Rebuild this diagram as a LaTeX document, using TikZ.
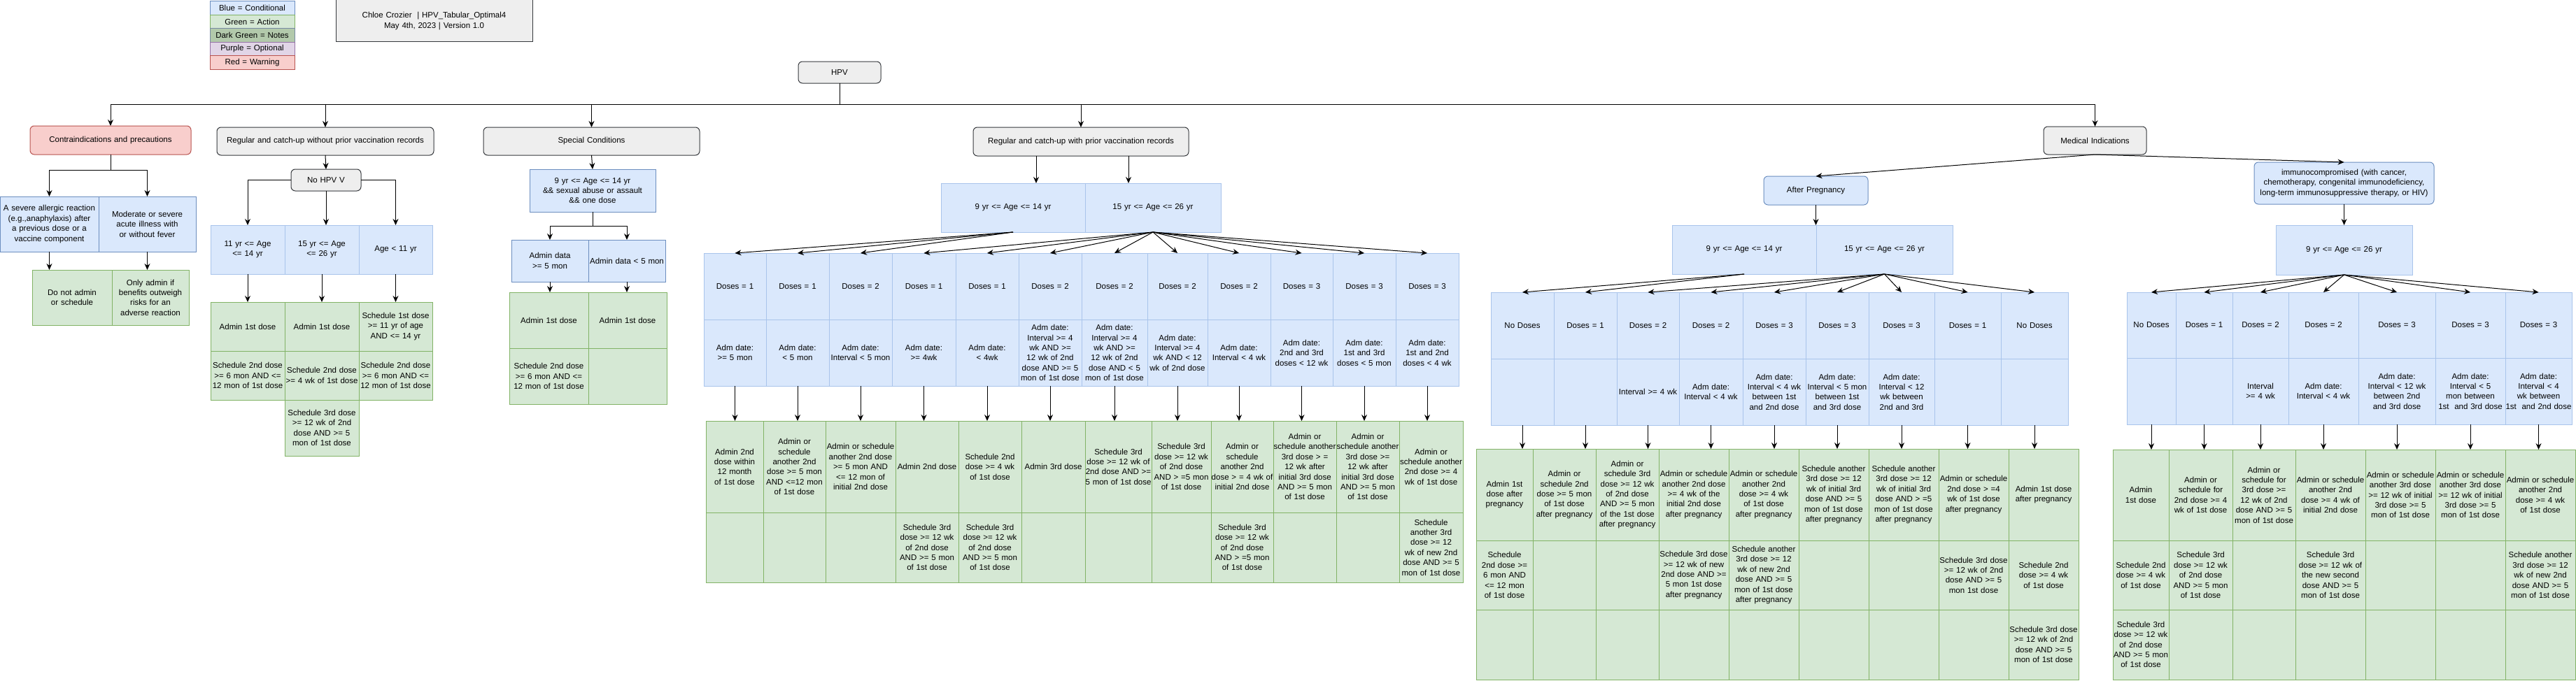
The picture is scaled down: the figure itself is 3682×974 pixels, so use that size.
\documentclass[tikz,border=0pt]{standalone}
\usepackage{fontspec}
\setmainfont{Liberation Sans}
\usetikzlibrary{arrows.meta}

\hyphenpenalty=10000\relax
\exhyphenpenalty=10000\relax

\definecolor{condFill}{HTML}{DAE8FC}
\definecolor{condLine}{HTML}{6C8EBF}
\definecolor{condSoft}{HTML}{A9C4EB}
\definecolor{actFill}{HTML}{D5E8D4}
\definecolor{actLine}{HTML}{82B366}
\definecolor{noteFill}{HTML}{B2C9AB}
\definecolor{noteLine}{HTML}{788AA3}
\definecolor{optFill}{HTML}{E1D5E7}
\definecolor{optLine}{HTML}{9673A6}
\definecolor{warnFill}{HTML}{F8CECC}
\definecolor{warnLine}{HTML}{B85450}
\definecolor{headFill}{HTML}{EEEEEE}
\definecolor{headLine}{HTML}{36393D}

% table cell: [style]{name}{x1}{y1}{x2}{y2}{text}
\newcommand{\tcell}[7][]{%
  \pgfmathsetmacro{\cellw}{#5-#3}%
  \pgfmathsetmacro{\cellh}{#6-#4}%
  \pgfmathsetmacro{\cellt}{#5-#3-1}%
  \node[#1, minimum width=\cellw pt, minimum height=\cellh pt, text width=\cellt pt]
    (#2) at ({(#3+#5)/2},{(#4+#6)/2}) {#7};%
}

\begin{document}
\begin{tikzpicture}[
    x=1pt, y=-1pt,
    every node/.style = {align=center, inner sep=0pt, outer sep=0pt,
                         font=\fontsize{11.5}{14.4}\selectfont},
    gbox/.style  = {draw=headLine, fill=headFill, rounded corners=6pt, line width=1pt},
    rbox/.style  = {draw=warnLine, fill=warnFill, rounded corners=6pt, line width=1pt},
    bbox/.style  = {draw=condLine, fill=condFill, rounded corners=6pt, line width=1pt},
    bcell/.style = {draw=condSoft, fill=condFill, line width=1pt},
    bcelld/.style = {draw=condLine, fill=condFill, line width=1pt},
    gcell/.style = {draw=actLine, fill=actFill, line width=1pt},
    titlebox/.style = {draw=headLine, fill=headFill, line width=1pt},
    arr/.style = {-{Stealth[length=9pt, width=8pt, inset=3pt]}, line width=1pt}
  ]
\useasboundingbox (0,0) rectangle (3682,974);

% legend and title
\tcell[draw=condLine, fill=condFill, line width=1pt]{legc}{300}{2}{421}{21.4}{Blue = Conditional}
\tcell[draw=actLine, fill=actFill, line width=1pt]{lega}{300}{21.4}{421}{40.8}{Green = Action}
\tcell[draw=noteLine, fill=noteFill, line width=1pt]{legn}{300}{40.8}{421}{60.2}{Dark Green = Notes}
\tcell[draw=optLine, fill=optFill, line width=1pt]{lego}{300}{60.2}{421}{79.6}{Purple = Optional}
\tcell[draw=warnLine, fill=warnFill, line width=1pt]{legw}{300}{79.6}{421}{99}{Red = Warning}
\tcell[titlebox]{title}{480}{0}{761}{60}{Chloe Crozier~ | HPV\_Tabular\_Optimal4\\ May 4th, 2023 | Version 1.0}

% top level
\tcell[gbox]{hpv}{1141}{88}{1259}{119}{HPV}
\tcell[rbox]{contra}{43}{180}{273}{221}{Contraindications and precautions}
\tcell[gbox]{regno}{310}{182}{620}{222}{Regular and catch-up without prior vaccination records}
\tcell[gbox]{special}{691}{182}{1000}{222}{Special Conditions}
\tcell[gbox]{regwith}{1391}{182}{1699}{223}{Regular and catch-up with prior vaccination records}
\tcell[gbox]{medical}{2921}{181}{3068}{221}{Medical Indications}

% contraindications
\tcell[bcelld]{ca1}{0}{281}{141}{360}{A severe allergic reaction (e.g.,anaphylaxis) after a previous dose or a vaccine component}
\tcell[bcelld]{ca2}{141}{281}{280}{360}{Moderate or severe acute illness with or without fever}
\tcell[gcell]{cg1}{46}{386}{160}{465}{Do not admin or schedule}
\tcell[gcell]{cg2}{160}{386}{270}{465}{Only admin if benefits outweigh risks for an adverse reaction}

% without prior records
\tcell[gbox]{nohpv}{416}{242}{516}{273}{No HPV V}
\tcell[bcell]{na1}{301}{322}{407}{392}{11 yr <= Age <= 14 yr}
\tcell[bcell]{na2}{407}{322}{513}{392}{15 yr <= Age <= 26 yr}
\tcell[bcell]{na3}{513}{322}{618}{392}{Age < 11 yr}
\tcell[gcell]{ng1}{301}{432}{407}{502}{Admin 1st dose}
\tcell[gcell]{ng2}{407}{432}{513}{502}{Admin 1st dose}
\tcell[gcell]{ng3}{513}{432}{618}{502}{Schedule 1st dose >= 11 yr of age AND <= 14 yr}
\tcell[gcell]{nh1}{301}{502}{407}{572}{Schedule 2nd dose >= 6 mon AND <= 12 mon of 1st dose}
\tcell[gcell]{nh2}{407}{502}{513}{572}{Schedule 2nd dose >= 4 wk of 1st dose}
\tcell[gcell]{nh3}{513}{502}{618}{572}{Schedule 2nd dose >= 6 mon AND <= 12 mon of 1st dose}
\tcell[gcell]{ni2}{407}{572}{513}{652}{Schedule 3rd dose >= 12 wk of 2nd dose AND >= 5 mon of 1st dose}

% special conditions
\tcell[bcelld]{sa}{757}{242}{937}{303}{9 yr <= Age <= 14 yr\\ \&\& sexual abuse or assault\\ \&\& one dose}
\tcell[bcelld]{sb1}{731}{343}{841}{403}{Admin data >= 5 mon}
\tcell[bcelld]{sb2}{841}{343}{951}{403}{Admin data < 5 mon}
\tcell[gcell]{sg1}{728}{418}{841}{498}{Admin 1st dose}
\tcell[gcell]{sg2}{841}{418}{953}{498}{Admin 1st dose}
\tcell[gcell]{sh1}{728}{498}{841}{578}{Schedule 2nd dose >= 6 mon AND <= 12 mon of 1st dose}
\tcell[gcell]{sh2}{841}{498}{953}{578}{}

% with prior records
\tcell[bcell]{ma1}{1345}{262}{1551}{332}{9 yr <= Age <= 14 yr}
\tcell[bcell]{ma2}{1551}{262}{1745}{332}{15 yr <= Age <= 26 yr}
\foreach \xa/\xb/\ta/\tb [count=\i] in {
  1006/1095/{Doses = 1}/{Adm date:\\ >= 5 mon},
  1095/1185/{Doses = 1}/{Adm date:\\ < 5 mon},
  1185/1275/{Doses = 2}/{Adm date:\\ Interval < 5 mon},
  1275/1366/{Doses = 1}/{Adm date:\\ >= 4wk},
  1366/1456/{Doses = 1}/{Adm date:\\ < 4wk},
  1456/1546/{Doses = 2}/{Adm date:\\ Interval >= 4 wk AND >= 12 wk of 2nd dose AND >= 5 mon of 1st dose},
  1546/1640/{Doses = 2}/{Adm date:\\ Interval >= 4 wk AND >= 12 wk of 2nd dose AND < 5 mon of 1st dose},
  1640/1726/{Doses = 2}/{Adm date:\\ Interval >= 4 wk AND < 12 wk of 2nd dose},
  1726/1816/{Doses = 2}/{Adm date:\\ Interval < 4 wk},
  1816/1905/{Doses = 3}/{Adm date:\\ 2nd and 3rd doses < 12 wk},
  1905/1995/{Doses = 3}/{Adm date:\\ 1st and 3rd doses < 5 mon},
  1995/2085/{Doses = 3}/{Adm date:\\ 1st and 2nd doses < 4 wk}
}{
  \tcell[bcell]{mb\i}{\xa}{362}{\xb}{457}{\ta}
  \tcell[bcell]{md\i}{\xa}{457}{\xb}{552}{\tb}
}
\foreach \xa/\xb/\ta/\tb [count=\i] in {
  1009/1091/{Admin 2nd dose within 12 month of 1st dose}/{},
  1091/1180/{Admin or schedule another 2nd dose >= 5 mon AND <=12 mon of 1st dose}/{},
  1180/1280/{Admin or schedule another 2nd dose >= 5 mon AND <= 12 mon of initial 2nd dose}/{},
  1280/1370/{Admin 2nd dose}/{Schedule 3rd dose >= 12 wk of 2nd dose AND >= 5 mon of 1st dose},
  1370/1460/{Schedule 2nd dose >= 4 wk of 1st dose}/{Schedule 3rd dose >= 12 wk of 2nd dose AND >= 5 mon of 1st dose},
  1460/1551/{Admin 3rd dose}/{},
  1551/1646/{Schedule 3rd dose >= 12 wk of 2nd dose AND >= 5 mon of 1st dose}/{},
  1646/1731/{Schedule 3rd dose >= 12 wk of 2nd dose AND > =5 mon of 1st dose}/{},
  1731/1820/{Admin or schedule another 2nd dose > = 4 wk of initial 2nd dose}/{Schedule 3rd dose >= 12 wk of 2nd dose AND > =5 mon of 1st dose},
  1820/1910/{Admin or schedule another 3rd dose > = 12 wk after initial 3rd dose AND >= 5 mon of 1st dose}/{},
  1910/2000/{Admin or schedule another 3rd dose >= 12 wk after initial 3rd dose AND >= 5 mon of 1st dose}/{},
  2000/2091/{Admin or schedule another 2nd dose >= 4 wk of 1st dose}/{Schedule another 3rd dose >= 12 wk of new 2nd dose AND >= 5 mon of 1st dose}
}{
  \tcell[gcell]{mg\i}{\xa}{602}{\xb}{733}{\ta}
  \tcell[gcell]{mh\i}{\xa}{733}{\xb}{833}{\tb}
}

% after pregnancy
\tcell[bbox]{preg}{2521}{252}{2670}{293}{After Pregnancy}
\tcell[bcell]{pa1}{2390}{322}{2596}{392}{9 yr <= Age <= 14 yr}
\tcell[bcell]{pa2}{2596}{322}{2791}{392}{15 yr <= Age <= 26 yr}
\foreach \xa/\xb/\ta/\tb [count=\i] in {
  2131/2221/{No Doses}/{},
  2221/2311/{Doses = 1}/{},
  2311/2400/{Doses = 2}/{Interval >= 4 wk},
  2400/2491/{Doses = 2}/{Adm date:\\ Interval < 4 wk},
  2491/2581/{Doses = 3}/{Adm date:\\ Interval < 4 wk between 1st and 2nd dose},
  2581/2671/{Doses = 3}/{Adm date:\\ Interval < 5 mon between 1st and 3rd dose},
  2671/2765/{Doses = 3}/{Adm date:\\ Interval < 12 wk between 2nd and 3rd},
  2765/2860/{Doses = 1}/{},
  2860/2956/{No Doses}/{}
}{
  \tcell[bcell]{pb\i}{\xa}{418}{\xb}{513}{\ta}
  \tcell[bcell]{pd\i}{\xa}{513}{\xb}{608}{\tb}
}
\foreach \xa/\xb/\ta/\tb/\tc [count=\i] in {
  2110/2191/{Admin 1st dose after pregnancy}/{Schedule 2nd dose >= 6 mon AND <= 12 mon of 1st dose}/{},
  2191/2281/{Admin or schedule 2nd dose >= 5 mon of 1st dose after pregnancy}/{}/{},
  2281/2371/{Admin or schedule 3rd dose >= 12 wk of 2nd dose AND >= 5 mon of the 1st dose after pregnancy}/{}/{},
  2371/2471/{Admin or schedule another 2nd dose >= 4 wk of the initial 2nd dose after pregnancy}/{Schedule 3rd dose >= 12 wk of new 2nd dose AND >= 5 mon 1st dose after pregnancy}/{},
  2471/2571/{Admin or schedule another 2nd dose >= 4 wk of 1st dose after pregnancy}/{Schedule another 3rd dose >= 12 wk of new 2nd dose AND >= 5 mon of 1st dose after pregnancy}/{},
  2571/2671/{Schedule another 3rd dose >= 12 wk of initial 3rd dose AND >= 5 mon of 1st dose after pregnancy}/{}/{},
  2671/2771/{Schedule another 3rd dose >= 12 wk of initial 3rd dose AND > =5 mon of 1st dose after pregnancy}/{}/{},
  2771/2871/{Admin or schedule 2nd dose > =4 wk of 1st dose after pregnancy}/{Schedule 3rd dose >= 12 wk of 2nd dose AND >= 5 mon 1st dose}/{},
  2871/2971/{Admin 1st dose after pregnancy}/{Schedule 2nd dose >= 4 wk of 1st dose}/{Schedule 3rd dose >= 12 wk of 2nd dose AND >= 5 mon of 1st dose}
}{
  \tcell[gcell]{pg\i}{\xa}{642}{\xb}{773}{\ta}
  \tcell[gcell]{ph\i}{\xa}{773}{\xb}{872}{\tb}
  \tcell[gcell]{pi\i}{\xa}{872}{\xb}{972}{\tc}
}

% immunocompromised
\tcell[bbox]{imm}{3222}{232}{3479}{292}{immunocompromised (with cancer,\\ chemotherapy, congenital immunodeficiency,\\ long-term immunosuppressive therapy, or HIV)}
\tcell[bcell]{ia}{3253}{322}{3448}{393}{9 yr <= Age <= 26 yr}
\foreach \xa/\xb/\ta/\tb [count=\i] in {
  3040/3110/{No Doses}/{},
  3110/3191/{Doses = 1}/{},
  3191/3271/{Doses = 2}/{Interval >= 4 wk},
  3271/3371/{Doses = 2}/{Adm date:\\ Interval < 4 wk},
  3371/3481/{Doses = 3}/{Adm date:\\ Interval < 12 wk between 2nd and 3rd dose},
  3481/3581/{Doses = 3}/{Adm date:\\ Interval < 5 mon between 1st~ and 3rd dose},
  3581/3676/{Doses = 3}/{Adm date:\\ Interval < 4 wk between 1st~ and 2nd dose}
}{
  \tcell[bcell]{ib\i}{\xa}{418}{\xb}{512}{\ta}
  \tcell[bcell]{id\i}{\xa}{512}{\xb}{607}{\tb}
}
\foreach \xa/\xb/\ta/\tb/\tc [count=\i] in {
  3020/3100/{Admin 1st dose}/{Schedule 2nd dose >= 4 wk of 1st dose}/{Schedule 3rd dose >= 12 wk of 2nd dose AND >= 5 mon of 1st dose},
  3100/3191/{Admin or schedule for 2nd dose >= 4 wk of 1st dose}/{Schedule 3rd dose >= 12 wk of 2nd dose AND >= 5 mon of 1st dose}/{},
  3191/3281/{Admin or schedule for 3rd dose >= 12 wk of 2nd dose AND >= 5 mon of 1st dose}/{}/{},
  3281/3381/{Admin or schedule another 2nd dose >= 4 wk of initial 2nd dose}/{Schedule 3rd dose >= 12 wk of the new second dose AND >= 5 mon of 1st dose}/{},
  3381/3481/{Admin or schedule another 3rd dose >= 12 wk of initial 3rd dose >= 5 mon of 1st dose}/{}/{},
  3481/3581/{Admin or schedule another 3rd dose >= 12 wk of initial 3rd dose >= 5 mon of 1st dose}/{}/{},
  3581/3681/{Admin or schedule another 2nd dose >= 4 wk of 1st dose}/{Schedule another 3rd dose >= 12 wk of new 2nd dose AND >= 5 mon of 1st dose}/{}
}{
  \tcell[gcell]{ig\i}{\xa}{643}{\xb}{773}{\ta}
  \tcell[gcell]{ih\i}{\xa}{773}{\xb}{872}{\tb}
  \tcell[gcell]{ii\i}{\xa}{872}{\xb}{972}{\tc}
}

% connectors
\draw[arr] (hpv.south) -- ++(0,30) -| (contra.north);
\draw[arr] (hpv.south) -- ++(0,30) -| (regno.north);
\draw[arr] (hpv.south) -- ++(0,30) -| (special.north);
\draw[arr] (hpv.south) -- ++(0,30) -| (regwith.north);
\draw[arr] (hpv.south) -- ++(0,30) -| (medical.north);

\draw[arr] (contra.south) -- ++(0,22) -| (ca1.north);
\draw[arr] (contra.south) -- ++(0,22) -| (ca2.north);
\draw[arr] (ca1.south) -- (ca1.south |- cg1.north);
\draw[arr] (ca2.south) -- (ca2.south |- cg2.north);

\draw[arr] (regno.south) -- (nohpv.north);
\draw[arr] (nohpv.west) -| (na1.north);
\draw[arr] (nohpv.south) -- (nohpv.south |- na2.north);
\draw[arr] (nohpv.east) -| (na3.north);
\foreach \i in {1,2,3}
  \draw[arr] (na\i.south) -- (ng\i.north);

\draw[arr] (special.south) -- (sa.north);
\draw[arr] (sa.south) -- ++(0,20) -| (sb1.north);
\draw[arr] (sa.south) -- ++(0,20) -| (sb2.north);
\draw[arr] (sb1.south) -- (sb1.south |- sg1.north);
\draw[arr] (sb2.south) -- (sb2.south |- sg2.north);

\draw[arr] ([xshift=-64pt]regwith.south) -- ([xshift=-64pt]regwith.south |- ma1.north);
\draw[arr] ([xshift=68pt]regwith.south) -- ([xshift=68pt]regwith.south |- ma2.north);
\foreach \i in {1,2,3}
  \draw[arr] (ma1.south) -- (mb\i.north);
\foreach \i in {4,...,12}
  \draw[arr] (ma2.south) -- (mb\i.north);
\foreach \i in {1,...,12}
  \draw[arr] (md\i.south) -- (md\i.south |- mg\i.north);

\draw[arr] (medical.south) -- (preg.north);
\draw[arr] (medical.south) -- (imm.north);

\draw[arr] (preg.south) -- (preg.south |- pa1.north);
\foreach \i in {1,2}
  \draw[arr] (pa1.south) -- (pb\i.north);
\foreach \i in {3,...,9}
  \draw[arr] (pa2.south) -- (pb\i.north);
\foreach \i in {1,...,9}
  \draw[arr] (pd\i.south) -- (pd\i.south |- pg\i.north);

\draw[arr] (imm.south) -- (ia.north);
\foreach \i in {1,...,7}
  \draw[arr] (ia.south) -- (ib\i.north);
\foreach \i in {1,...,7}
  \draw[arr] (id\i.south) -- (id\i.south |- ig\i.north);
\end{tikzpicture}
\end{document}
